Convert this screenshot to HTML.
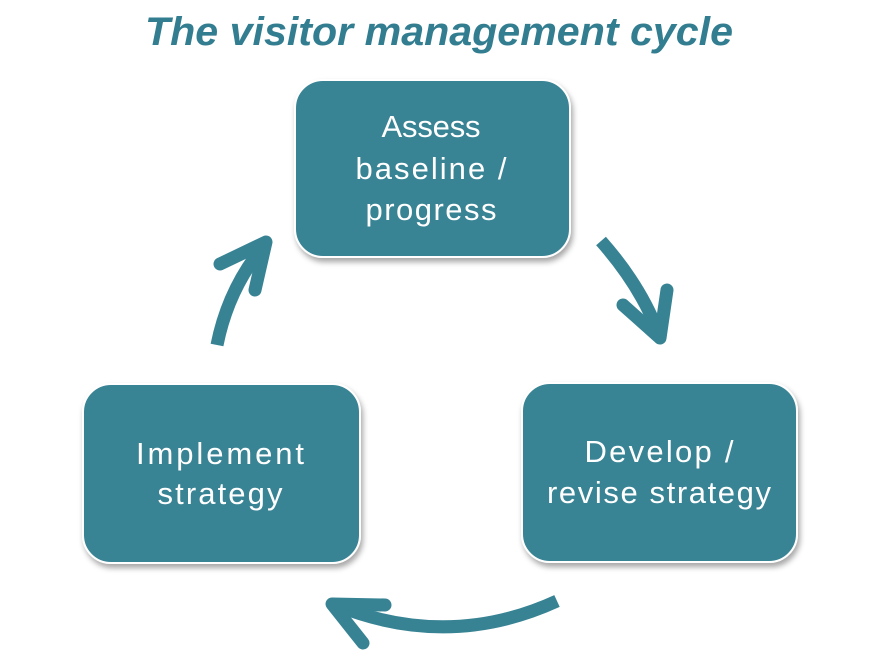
<!DOCTYPE html>
<html><head><meta charset="utf-8"><style>
html,body{margin:0;padding:0;background:#fff;}
svg{display:block;}
</style></head><body>
<svg width="892" height="660" viewBox="0 0 892 660" xmlns="http://www.w3.org/2000/svg">
<defs>
<filter id="sh" x="-10%" y="-10%" width="125%" height="130%">
<feDropShadow dx="2" dy="4" stdDeviation="3" flood-color="#000" flood-opacity="0.35"/>
</filter>
</defs>
<text x="439" y="45" font-family="Liberation Sans, sans-serif" font-weight="bold" font-style="italic" font-size="40" fill="#327d90" text-anchor="middle" textLength="588" lengthAdjust="spacingAndGlyphs">The visitor management cycle</text>

<g fill="#378394" stroke="#fff" stroke-width="2" filter="url(#sh)">
<rect x="295" y="80" width="275" height="177" rx="28"/>
<rect x="83" y="384" width="277" height="179" rx="28"/>
<rect x="522" y="383" width="275" height="179" rx="28"/>
</g>

<g font-family="Liberation Sans, sans-serif" font-size="31" fill="#fff" text-anchor="middle" lengthAdjust="spacingAndGlyphs">
<text x="431" y="137" textLength="99">Assess</text>
<text x="431" y="179" textLength="151">baseline /</text>
<text x="431" y="220" textLength="131">progress</text>
<text x="220" y="464" textLength="168">Implement</text>
<text x="220" y="504" textLength="125">strategy</text>
<text x="659" y="462" textLength="149">Develop /</text>
<text x="659" y="503" textLength="224">revise strategy</text>
</g>

<g fill="none" stroke="#378394" stroke-width="13" stroke-linecap="round" stroke-linejoin="round">
<path d="M601 241 Q640 285 658 332" stroke-linecap="butt"/>
<path d="M623 305 L660 338 L667 290"/>
<path d="M557 601 Q450 650 338 606" stroke-linecap="butt"/>
<path d="M385 605 L332 604 L363 643"/>
<path d="M217 345 Q228 290 262 248" stroke-linecap="butt"/>
<path d="M220 264 L266 242 L255 290"/>
</g>
</svg>
</body></html>
